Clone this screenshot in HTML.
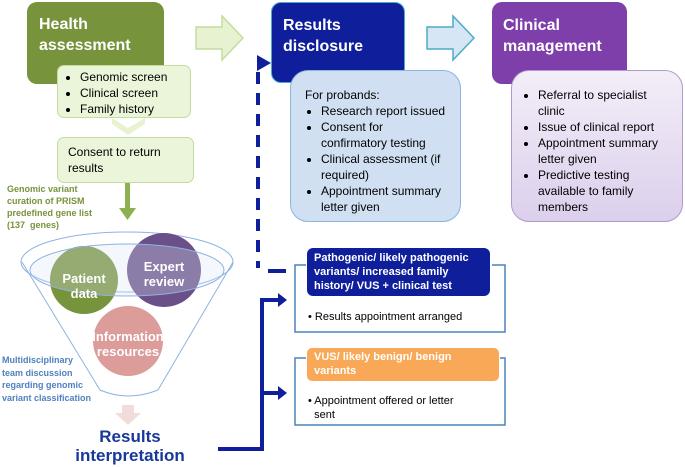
<!DOCTYPE html>
<html><head><style>
body{margin:0;background:#fff;width:685px;height:467px;overflow:hidden;font-family:"Liberation Sans",sans-serif}
.a{position:absolute;box-sizing:border-box}
.t{font-weight:bold;color:#fff;font-size:16px;line-height:21px}
ul{margin:0;padding:0 0 0 16px}
li{margin:0}
</style></head><body>
<svg class="a" style="left:0;top:0" width="685" height="467">
<path d="M196,27 H222 V16 L243,38 L222,60 V49 H196 Z" fill="#E6F2D0" stroke="#C3DCA0" stroke-width="1.5"/>
<path d="M427,27 H453 V16 L474,38 L453,60 V49 H427 Z" fill="#D6E6F4" stroke="#4BACC6" stroke-width="1.5"/>
<path d="M112,118 L128,128 L145,118 L145,124 L128,135 L112,124Z" fill="#E6F2D0"/>
<rect x="125" y="182" width="5" height="28" fill="#8DB050"/>
<path d="M119,208 L136,208 L127.5,220Z" fill="#8DB050"/>
<path d="M22,262 L100,390 Q128,402 158,390 L233,262" fill="none" stroke="#8DB3E2" stroke-width="1"/>
<ellipse cx="127" cy="262" rx="106" ry="30" fill="none" stroke="#8DB3E2"/>
<circle cx="84" cy="280" r="34" fill="#77933C"/>
<circle cx="164" cy="270" r="37" fill="#6A4F88"/>
<circle cx="128" cy="341" r="35" fill="#DC9C9A"/>
<ellipse cx="127" cy="270" rx="97" ry="26" fill="#DCE6F2" fill-opacity="0.3" stroke="#8DB3E2"/>
<text x="84" y="283" font-size="13" font-weight="bold" fill="#fff" text-anchor="middle" font-family="Liberation Sans">Patient</text>
<text x="84" y="298" font-size="13" font-weight="bold" fill="#fff" text-anchor="middle" font-family="Liberation Sans">data</text>
<text x="164" y="271" font-size="13" font-weight="bold" fill="#fff" text-anchor="middle" font-family="Liberation Sans">Expert</text>
<text x="164" y="286" font-size="13" font-weight="bold" fill="#fff" text-anchor="middle" font-family="Liberation Sans">review</text>
<text x="128" y="341" font-size="13" font-weight="bold" fill="#fff" text-anchor="middle" font-family="Liberation Sans">Information</text>
<text x="128" y="356" font-size="13" font-weight="bold" fill="#fff" text-anchor="middle" font-family="Liberation Sans">resources</text>
<path d="M122,405 H134 V413 H141 L128,425 L115,413 H122Z" fill="#F2DCDB"/>
<line x1="258" y1="72" x2="258" y2="268" stroke="#0F1F9B" stroke-width="4" stroke-dasharray="12,9"/>
<line x1="268" y1="271" x2="286" y2="271" stroke="#0F1F9B" stroke-width="4"/>
<path d="M257,55 L271,63 L257,71Z" fill="#0F1F9B"/>
<path d="M218,449 H262 V300 H280 M262,393 H280" fill="none" stroke="#0F1F9B" stroke-width="4"/>
<path d="M278,293 L287,300 L278,307Z M278,386 L287,393 L278,400Z" fill="#0F1F9B"/>
<path d="M306,265 H295 V332 H505 V265 H492" fill="none" stroke="#4F81BD" stroke-width="1.5"/>
<path d="M306,358 H295 V425 H505 V358 H500" fill="none" stroke="#4F81BD" stroke-width="1.5"/>
</svg>

<div class="a" style="left:27px;top:2px;width:137px;height:82px;background:#77933C;border-radius:10px;padding:12px 12px"><div class="t">Health<br>assessment</div></div>
<div class="a" style="left:57px;top:65px;width:134px;height:53px;background:#EBF5DA;border:1px solid #C3DCA0;border-radius:7px;font-size:12px;line-height:16px;padding:3px 0 0 6px"><ul><li>Genomic screen</li><li>Clinical screen</li><li>Family history</li></ul></div>
<div class="a" style="left:57px;top:137px;width:137px;height:46px;background:#EBF5DA;border:1px solid #C3DCA0;border-radius:7px;font-size:12px;line-height:16px;padding:6px 10px">Consent to return results</div>
<div class="a" style="left:7px;top:183px;font-size:9px;line-height:12px;font-weight:bold;color:#77933C">Genomic variant<br>curation of PRISM<br>predefined gene list<br>(137&nbsp; genes)</div>
<div class="a" style="left:2px;top:354px;font-size:9px;line-height:12.5px;font-weight:bold;color:#4F81BD">Multidisciplinary<br>team discussion<br>regarding genomic<br>variant classification</div>
<div class="a" style="left:60px;top:427px;width:140px;text-align:center;font-size:17px;line-height:19px;font-weight:bold;color:#17379A">Results<br>interpretation</div>

<div class="a" style="left:271px;top:2px;width:134px;height:81px;background:#0F1F9B;border:1px solid #4BACC6;border-radius:10px;padding:12px 11px"><div class="t">Results<br>disclosure</div></div>
<div class="a" style="left:290px;top:70px;width:171px;height:152px;background:#D0E0F2;border:1.5px solid #8DB3E2;border-radius:18px;font-size:12px;line-height:16px;padding:16px 8px 0 14px">For probands:<ul><li>Research report issued</li><li>Consent for confirmatory testing</li><li>Clinical assessment (if required)</li><li>Appointment summary letter given</li></ul></div>

<div class="a" style="left:492px;top:2px;width:135px;height:82px;background:#7F3FAA;border-radius:10px;padding:13px 11px"><div class="t">Clinical<br>management</div></div>
<div class="a" style="left:511px;top:70px;width:172px;height:152px;background:linear-gradient(#F3EEF8,#DCCFEC);border:1.5px solid #B09ACB;border-radius:18px;font-size:12px;line-height:16px;padding:16px 6px 0 16px"><ul style="padding-left:10px"><li>Referral to specialist clinic</li><li>Issue of clinical report</li><li>Appointment summary letter given</li><li>Predictive testing available to family members</li></ul></div>

<div class="a" style="left:307px;top:248px;width:183px;height:48px;background:#0F1F9B;border-radius:6px;color:#fff;font-weight:bold;font-size:11px;line-height:14px;padding:3px 7px">Pathogenic/ likely pathogenic variants/ increased family history/ VUS + clinical test</div>
<div class="a" style="left:308px;top:311px;font-size:11px">• Results appointment arranged</div>
<div class="a" style="left:307px;top:348px;width:192px;height:33px;background:#F9A857;border-radius:5px;color:#fff;font-weight:bold;font-size:11px;line-height:14px;padding:2px 7px">VUS/ likely benign/ benign variants</div>
<div class="a" style="left:308px;top:394px;font-size:11px;line-height:14px">• Appointment offered or letter<br>&nbsp;&nbsp;sent</div>
</body></html>
